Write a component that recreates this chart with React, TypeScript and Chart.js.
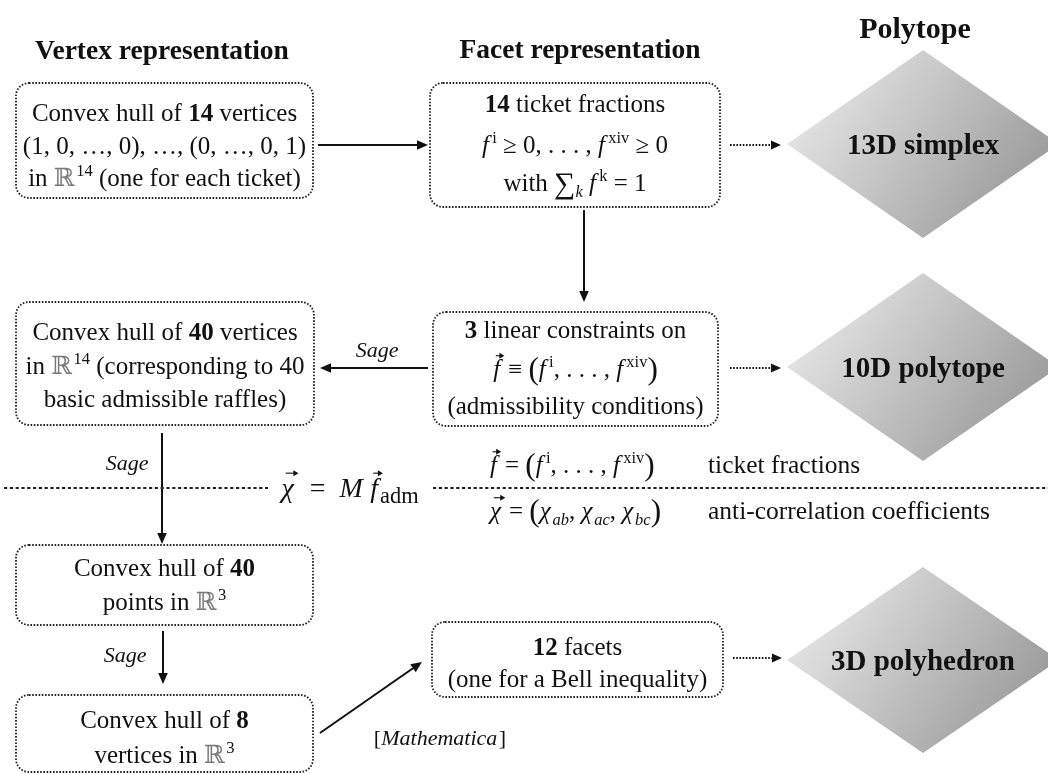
import React, { useEffect, useRef } from "react";
import { Chart, registerables } from "chart.js";

Chart.register(...registerables);

const CANVAS_W = 1048;
const CANVAS_H = 774;
const FAM = '"Liberation Serif", "DejaVu Serif", "Times New Roman", serif';

type Seg = [string, string];

// ---- column headers ----
const headerTexts = ["Vertex representation", "Facet representation", "Polytope"];
const headerX = [162, 580, 915];
const headerY = [50, 49, 28];
const headerSize = [27.5, 27.5, 30];

// ---- dotted boxes ----
const boxLeft = [16, 430, 16, 433, 16, 16, 432];
const boxTop = [83, 83, 302, 312, 545, 695, 622];
const boxRight = [313, 720, 314, 718, 313, 313, 723];
const boxBottom = [198, 207, 425, 426, 625, 772, 697];

const boxLines: Seg[][][] = [
  [
    [["Convex hull of ", ""], ["14", "b"], [" vertices", ""]],
    [["(1, 0, \u2026, 0), \u2026, (0, \u2026, 0, 1)", ""]],
    [["in ", ""], ["\u211D", "R"], ["14", "^"], [" (one for each ticket)", ""]],
  ],
  [
    [["14", "b"], [" ticket fractions", ""]],
    [["f", "i"], ["i", "^"], [" \u2265 0, . . . , ", ""], ["f", "i"], ["xiv", "^"], [" \u2265 0", ""]],
    [["with ", ""], ["\u2211", "S"], ["k", "_i"], [" ", ""], ["f", "i"], ["k", "^"], [" = 1", ""]],
  ],
  [
    [["Convex hull of ", ""], ["40", "b"], [" vertices", ""]],
    [["in ", ""], ["\u211D", "R"], ["14", "^"], [" (corresponding to 40", ""]],
    [["basic admissible raffles)", ""]],
  ],
  [
    [["3", "b"], [" linear constraints on", ""]],
    [["f", "iv"], [" \u2261 ", ""], ["(", "P"], ["f", "i"], ["i", "^"], [", . . . , ", ""], ["f", "i"], ["xiv", "^"], [")", "P"]],
    [["(admissibility conditions)", ""]],
  ],
  [
    [["Convex hull of ", ""], ["40", "b"]],
    [["points in ", ""], ["\u211D", "R"], ["3", "^"]],
  ],
  [
    [["Convex hull of ", ""], ["8", "b"]],
    [["vertices in ", ""], ["\u211D", "R"], ["3", "^"]],
  ],
  [
    [["12", "b"], [" facets", ""]],
    [["(one for a Bell inequality)", ""]],
  ],
];
const boxLineY: number[][] = [
  [113, 146, 178],
  [104, 145, 183],
  [332, 366, 399],
  [330, 369, 406],
  [568, 602],
  [720, 755],
  [647, 679],
];

// ---- polytope diamonds ----
const polytopeLabels = ["13D simplex", "10D polytope", "3D polyhedron"];
const polytopeCX = [923, 923, 923];
const polytopeCY = [144, 367, 660];
const polytopeHalfW = [136, 136, 136];
const polytopeHalfH = [94, 94, 93];

// ---- arrows [x0, y0, x1, y1] ----
const solidArrows: number[][] = [
  [318, 145, 428, 145],
  [584, 210, 584, 302],
  [428, 368, 320, 368],
  [162, 433, 162, 544],
  [163, 631, 163, 684],
  [320, 733, 422, 662],
];
const dottedArrows: number[][] = [
  [730, 145, 781, 145],
  [730, 368, 781, 368],
  [733, 658, 782, 658],
];

// ---- italic tool labels ----
const toolLabels: Seg[][] = [
  [["Sage", "i"]],
  [["Sage", "i"]],
  [["Sage", "i"]],
  [["[", ""], ["Mathematica", "i"], ["]", ""]],
];
const toolX = [378, 128, 126, 440];
const toolY = [350, 463, 655, 738];

// ---- separator and legend ----
const separatorY = 488;
const separatorSegments: number[][] = [
  [4, 268],
  [433, 1048],
];
const mapFormula: Seg[] = [["\u03C7", "iv"], ["\u2002=\u2002", ""], ["M", "i"], ["\u2009", ""], ["f", "iv"], ["adm", "_L"]];
const mapFormulaX = 350;
const legendFormulas: Seg[][] = [
  [["f", "iv"], [" = ", ""], ["(", "P"], ["f", "i"], ["i", "^"], [", . . . , ", ""], ["f", "i"], ["xiv", "^"], [")", "P"]],
  [["\u03C7", "iv"], [" = ", ""], ["(", "P"], ["\u03C7", "i"], ["ab", "_i"], [", ", ""], ["\u03C7", "i"], ["ac", "_i"], [", ", ""], ["\u03C7", "i"], ["bc", "_i"], [")", "P"]],
];
const legendTexts = ["ticket fractions", "anti-correlation coefficients"];
const legendFormulaX = 490;
const legendTextX = 708;
const legendY = [465, 511];

// ---------- drawing helpers ----------
function segSize(style: string, base: number) {
  if (style.includes("L")) return base * 0.8;
  if (style.includes("^") || style.includes("_")) return base * 0.66;
  if (style.includes("S")) return base * 1.2;
  if (style.includes("P")) return base * 1.25;
  return base;
}
function segDy(style: string, base: number) {
  if (style.includes("^")) return -0.4 * base;
  if (style.includes("_")) return 0.22 * base;
  if (style.includes("S")) return 0.06 * base;
  if (style.includes("P")) return 0.06 * base;
  return 0;
}
function fontFor(style: string, size: number) {
  const bold = style.includes("b");
  const italic = style.includes("i");
  return `${italic ? "italic " : ""}${bold ? "bold " : ""}${size}px ${FAM}`;
}
function segPad(s: string, base: number) {
  return s.includes("^") ? base * 0.06 : 0;
}
function segAdvance(ctx: CanvasRenderingContext2D, t: string, s: string, base: number) {
  ctx.font = fontFor(s, segSize(s, base));
  let w = ctx.measureText(t).width + segPad(s, base);
  if (s.includes("i") && !s.includes("^") && !s.includes("_")) w += base * 0.07;
  return w;
}
function richWidth(ctx: CanvasRenderingContext2D, segs: Seg[], base: number) {
  let w = 0;
  for (const [t, s] of segs) w += segAdvance(ctx, t, s, base);
  return w;
}
function drawRich(
  ctx: CanvasRenderingContext2D,
  segs: Seg[],
  x: number,
  cy: number,
  base: number,
  align: "center" | "left"
) {
  const total = richWidth(ctx, segs, base);
  let cx = align === "center" ? x - total / 2 : x;
  const baseline = cy + base * 0.33;
  ctx.textAlign = "left";
  ctx.textBaseline = "alphabetic";
  for (const [t, s] of segs) {
    const w = segAdvance(ctx, t, s, base);
    ctx.font = fontFor(s, segSize(s, base));
    ctx.fillStyle = s.includes("R") ? "#7a7a7a" : "#111";
    ctx.fillText(t, cx + segPad(s, base), baseline + segDy(s, base));
    if (s.includes("v")) {
      const ax0 = cx + w * 0.3;
      const ax1 = cx + w + base * 0.1;
      const ay = baseline - base * 0.86;
      ctx.save();
      ctx.strokeStyle = "#111";
      ctx.fillStyle = "#111";
      ctx.lineWidth = 1.1;
      ctx.setLineDash([]);
      ctx.beginPath();
      ctx.moveTo(ax0, ay);
      ctx.lineTo(ax1 - 2, ay);
      ctx.stroke();
      ctx.beginPath();
      ctx.moveTo(ax1, ay);
      ctx.lineTo(ax1 - 5, ay - 3);
      ctx.lineTo(ax1 - 5, ay + 3);
      ctx.closePath();
      ctx.fill();
      ctx.restore();
    }
    cx += w;
  }
}

function drawArrow(
  ctx: CanvasRenderingContext2D,
  x0: number,
  y0: number,
  x1: number,
  y1: number,
  dotted: boolean
) {
  const ang = Math.atan2(y1 - y0, x1 - x0);
  const headLen = dotted ? 10 : 11;
  const headHalf = dotted ? 4.5 : 4.8;
  const bx = x1 - headLen * Math.cos(ang);
  const by = y1 - headLen * Math.sin(ang);
  ctx.save();
  ctx.strokeStyle = "#111";
  ctx.fillStyle = "#111";
  ctx.lineWidth = dotted ? 1.8 : 2;
  ctx.setLineDash(dotted ? [1.6, 1.6] : []);
  ctx.beginPath();
  ctx.moveTo(x0, y0);
  ctx.lineTo(bx, by);
  ctx.stroke();
  ctx.setLineDash([]);
  ctx.beginPath();
  ctx.moveTo(x1, y1);
  ctx.lineTo(bx + headHalf * Math.sin(ang), by - headHalf * Math.cos(ang));
  ctx.lineTo(bx - headHalf * Math.sin(ang), by + headHalf * Math.cos(ang));
  ctx.closePath();
  ctx.fill();
  ctx.restore();
}

const diagramPlugin = {
  id: "diagram",
  afterDraw(chart: any) {
    const ctx: CanvasRenderingContext2D = chart.ctx;
    const xs = chart.scales.x;
    const ys = chart.scales.y;
    const px = (v: number) => xs.getPixelForValue(v);
    const py = (v: number) => ys.getPixelForValue(v);

    ctx.save();

    // diamonds
    polytopeLabels.forEach((label, i) => {
      const cx = px(polytopeCX[i]);
      const cy = py(polytopeCY[i]);
      const hw = px(polytopeCX[i] + polytopeHalfW[i]) - cx;
      const hh = py(polytopeCY[i] + polytopeHalfH[i]) - cy;
      const g = ctx.createLinearGradient(cx - hw, cy - hh, cx + hw, cy + hh);
      g.addColorStop(0, "#f2f2f2");
      g.addColorStop(1, "#8c8c8c");
      ctx.fillStyle = g;
      ctx.beginPath();
      ctx.moveTo(cx, cy - hh);
      ctx.lineTo(cx + hw, cy);
      ctx.lineTo(cx, cy + hh);
      ctx.lineTo(cx - hw, cy);
      ctx.closePath();
      ctx.fill();
      drawRich(ctx, [[label, "b"]], cx, cy, 29, "center");
    });

    // headers
    headerTexts.forEach((t, i) => {
      drawRich(ctx, [[t, "b"]], px(headerX[i]), py(headerY[i]), headerSize[i], "center");
    });

    // boxes
    boxLeft.forEach((_, i) => {
      const x0 = px(boxLeft[i]);
      const y0 = py(boxTop[i]);
      const x1 = px(boxRight[i]);
      const y1 = py(boxBottom[i]);
      ctx.save();
      ctx.strokeStyle = "#222";
      ctx.lineWidth = 1.8;
      ctx.setLineDash([1.6, 1.6]);
      ctx.beginPath();
      (ctx as any).roundRect(x0, y0, x1 - x0, y1 - y0, 13);
      ctx.stroke();
      ctx.restore();
      const cx = (x0 + x1) / 2;
      boxLines[i].forEach((line, j) => {
        drawRich(ctx, line, cx, py(boxLineY[i][j]), 25, "center");
      });
    });

    // arrows
    solidArrows.forEach((a) => drawArrow(ctx, px(a[0]), py(a[1]), px(a[2]), py(a[3]), false));
    dottedArrows.forEach((a) => drawArrow(ctx, px(a[0]), py(a[1]), px(a[2]), py(a[3]), true));

    // tool labels
    toolLabels.forEach((segs, i) => drawRich(ctx, segs, px(toolX[i]), py(toolY[i]), 22, "center"));

    // separator
    ctx.save();
    ctx.strokeStyle = "#222";
    ctx.lineWidth = 1.8;
    ctx.setLineDash([3.2, 2.6]);
    separatorSegments.forEach((s) => {
      ctx.beginPath();
      ctx.moveTo(px(s[0]), py(separatorY));
      ctx.lineTo(px(s[1]), py(separatorY));
      ctx.stroke();
    });
    ctx.restore();
    drawRich(ctx, mapFormula, px(mapFormulaX), py(separatorY), 28, "center");

    // legend
    legendFormulas.forEach((f, i) => {
      drawRich(ctx, f, px(legendFormulaX), py(legendY[i]), 25, "left");
      drawRich(ctx, [[legendTexts[i], ""]], px(legendTextX), py(legendY[i]), 25.5, "left");
    });

    ctx.restore();
  },
};

export default function App() {
  const ref = useRef<HTMLCanvasElement>(null);
  useEffect(() => {
    document.body.style.margin = "0";
    const chart = new Chart(ref.current as HTMLCanvasElement, {
      type: "scatter",
      data: { datasets: [] },
      options: {
        animation: false,
        responsive: false,
        devicePixelRatio: 1,
        events: [],
        layout: { padding: 0 },
        plugins: { legend: { display: false }, tooltip: { enabled: false } },
        scales: {
          x: { type: "linear", min: 0, max: CANVAS_W, display: false },
          y: { type: "linear", min: 0, max: CANVAS_H, reverse: true, display: false },
        },
      },
      plugins: [diagramPlugin as any],
    });
    return () => chart.destroy();
  }, []);
  return (
    <div style={{ width: CANVAS_W, height: CANVAS_H, background: "#fff" }}>
      <canvas ref={ref} width={CANVAS_W} height={CANVAS_H} style={{ display: "block" }} />
    </div>
  );
}
